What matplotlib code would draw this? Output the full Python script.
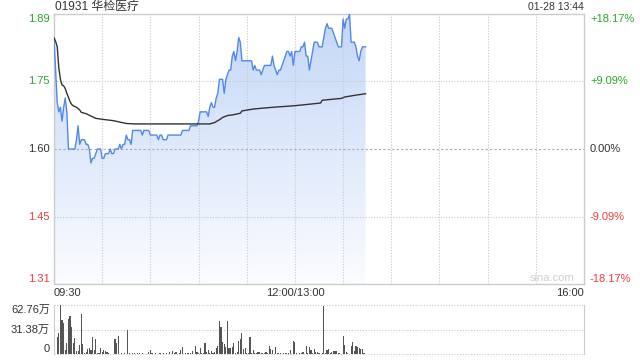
import numpy as np
import matplotlib.pyplot as plt
from matplotlib.patches import Polygon
from matplotlib.colors import LinearSegmentedColormap

plt.rcParams['font.family'] = ['Liberation Sans', 'Noto Sans CJK SC', 'DejaVu Sans']

titulo = "01931 华检医疗"
fecha = "01-28 13:44"
cierre_previo = 1.60
niveles_pct = [0.1817, 0.0909, 0.0, -0.0909, -0.1817]
etiquetas_izq = ['1.89', '1.75', '1.60', '1.45', '1.31']
etiquetas_der = ['+18.17%', '+9.09%', '0.00%', '-9.09%', '-18.17%']
etiquetas_hora = ['09:30', '12:00/13:00', '16:00']
minutos_hora = [0, 150, 330]
etiquetas_vol = ['62.76万', '31.38万', '0']
niveles_vol = [62.76, 31.38, 0]

# precio por minuto (09:30 -> 13:44)
precio = [
    1.84, 1.77, 1.70, 1.68, 1.69, 1.66, 1.69, 1.71, 1.68, 1.60,
    1.60, 1.60, 1.60, 1.60, 1.62, 1.65, 1.61, 1.62, 1.62, 1.62,
    1.61, 1.61, 1.60, 1.57, 1.58, 1.58, 1.59, 1.60, 1.60, 1.60,
    1.58, 1.58, 1.59, 1.59, 1.59, 1.60, 1.59, 1.59, 1.60, 1.60,
    1.60, 1.61, 1.60, 1.61, 1.61, 1.63, 1.62, 1.62, 1.61, 1.64,
    1.64, 1.64, 1.64, 1.64, 1.64, 1.63, 1.64, 1.64, 1.64, 1.64,
    1.63, 1.63, 1.63, 1.63, 1.63, 1.62, 1.63, 1.63, 1.62, 1.62,
    1.62, 1.63, 1.63, 1.63, 1.63, 1.63, 1.63, 1.63, 1.63, 1.63,
    1.64, 1.64, 1.64, 1.64, 1.64, 1.65, 1.65, 1.65, 1.65, 1.65,
    1.66, 1.68, 1.68, 1.68, 1.68, 1.68, 1.67, 1.69, 1.70, 1.69,
    1.69, 1.71, 1.72, 1.75, 1.75, 1.75, 1.72, 1.75, 1.76, 1.77,
    1.77, 1.80, 1.81, 1.79, 1.81, 1.84, 1.83, 1.79, 1.79, 1.79,
    1.79, 1.79, 1.79, 1.79, 1.77, 1.78, 1.77, 1.77, 1.77, 1.76,
    1.77, 1.78, 1.78, 1.78, 1.78, 1.78, 1.80, 1.78, 1.77, 1.76,
    1.77, 1.77, 1.78, 1.79, 1.80, 1.81, 1.81, 1.80, 1.81, 1.78,
    1.81, 1.81, 1.81, 1.81, 1.82, 1.82, 1.83, 1.80, 1.80, 1.77,
    1.79, 1.81, 1.83, 1.83, 1.83, 1.82, 1.82, 1.82, 1.84, 1.86,
    1.87, 1.86, 1.86, 1.86, 1.85, 1.84, 1.83, 1.82, 1.82, 1.82,
    1.88, 1.86, 1.88, 1.88, 1.89, 1.83, 1.83, 1.83, 1.82, 1.80,
    1.79, 1.81, 1.82, 1.82, 1.82,
]

# precio medio (minuto, valor)
medio_min = [0, 1, 2, 3, 4, 5, 6, 7, 8, 9, 10, 11, 12, 14, 16, 17, 20, 23, 26, 30,
             37, 41, 45, 50, 97, 100, 103, 105, 108, 112, 116, 117, 124, 130, 137,
             149, 155, 166, 167, 179, 181, 188, 194]
medio_px = [1.839, 1.832, 1.820, 1.775, 1.750, 1.738, 1.736, 1.730, 1.720, 1.711,
            1.702, 1.696, 1.693, 1.690, 1.684, 1.679, 1.676, 1.671, 1.666, 1.664,
            1.661, 1.658, 1.655, 1.654, 1.654, 1.657, 1.663, 1.668, 1.672, 1.674,
            1.677, 1.682, 1.686, 1.688, 1.690, 1.693, 1.695, 1.699, 1.705, 1.709,
            1.712, 1.716, 1.719]

# volumen por minuto (万)
volumen = [
    5, 0, 21.6, 26.7, 62.76, 43.7, 39.4, 5.5, 14, 45,
    48.8, 35.2, 14.8, 20.4, 4.7, 4.7, 11.9, 51.3, 12.7, 2.1,
    3.4, 6.4, 7.6, 5.5, 22.5, 5.5, 19.5, 2.1, 2.0, 8.5,
    3.4, 5.5, 4.7, 3.4, 1.3, 0.8, 0.5, 1.0, 19, 14.8,
    23.5, 0.8, 1.5, 0.5, 1.2, 1.0, 31, 1.2, 0.5, 1.5,
    2.0, 0.8, 1.7, 1.2, 0.5, 1.5, 0.8, 1.0, 0.5, 2.5,
    5.5, 1.2, 0.8, 1.5, 0.5, 1.0, 1.3, 0.6, 1.2, 0.8,
    1.5, 0.5, 3.4, 0.8, 4.7, 1.5, 3.4, 0.8, 1.3, 5.5,
    9.8, 0.8, 2.1, 1.3, 2.1, 1.3, 4.7, 0.8, 11, 3.4,
    2.1, 8.5, 2.1, 2.1, 14.8, 3.4, 5.5, 1.3, 4.7, 1.3,
    3.4, 8.5, 11, 42.8, 35.2, 16.1, 12.7, 9.8, 42.8, 8.5,
    8.5, 9.8, 14, 1.3, 3.4, 17.4, 19, 26.7, 6.4, 7.6,
    1.3, 2.1, 21.6, 1.3, 5.5, 1.3, 2.1, 3.4, 3.4, 2.1,
    1.3, 2.1, 3.4, 1.3, 10.6, 6.4, 5.5, 0.8, 8.9, 1.3,
    2.1, 1.3, 0.8, 1.3, 2.1, 2.1, 1.3, 5.5, 0.8, 17,
    16.1, 1.3, 0.8, 2.1, 1.3, 3.4, 0.8, 10.6, 2.1, 8.9,
    5.5, 1.3, 6.4, 3.4, 3.4, 1.3, 0.8, 1.3, 61.5, 2.1,
    5.5, 6.8, 1.3, 3.4, 4.7, 4.7, 4.7, 2.1, 1.3, 0.8,
    23.3, 11.9, 3.4, 1.3, 0.8, 10.6, 16.1, 4.7, 10.6, 9.8,
    7.6, 6.4, 6.4, 1.3, 0.8,
]

verde = '#2aa52a'
rojo = '#f03c3c'
gris_txt = '#333333'
gris_borde = '#cccccc'

fig = plt.figure(figsize=(6.4, 3.6), dpi=100)
ax = fig.add_axes([54 / 640, 76 / 360, 530 / 640, 270 / 360])
axv = fig.add_axes([54 / 640, 5.7 / 360, 530 / 640, 49.3 / 360])

ymin = cierre_previo * (1 + niveles_pct[-1])
ymax = cierre_previo * (1 + niveles_pct[0])
x = np.arange(len(precio))
y = np.array(precio)

ax.set_xlim(0, 330)
ax.set_ylim(ymin, ymax)

# relleno degradado bajo la linea
poly = Polygon(np.column_stack([np.r_[x, x[-1], x[0]], np.r_[y, ymin, ymin]]),
               closed=True, facecolor='none', edgecolor='none')
ax.add_patch(poly)
grad = np.linspace(1, 0, 256).reshape(-1, 1)
cmap = LinearSegmentedColormap.from_list('g', ['#fbfcff', '#c3d7f7'])
img = ax.imshow(grad, cmap=cmap, aspect='auto', extent=[0, 330, ymin, ymax],
                origin='upper', zorder=1)
img.set_clip_path(poly)

ax.plot(x, y, color='#5189ea', lw=1.0, zorder=3)
ax.plot(medio_min, medio_px, color='#333333', lw=1.0, zorder=4)

# rejilla
for m in range(30, 330, 30):
    ax.axvline(m, color='#c8c8c8', lw=0.8, ls=(0, (1, 1.5)), zorder=2)
for p in niveles_pct[1:-1]:
    if p == 0:
        ax.axhline(cierre_previo, color='#aaaaaa', lw=0.8, ls=(0, (2, 2)), zorder=2)
    else:
        ax.axhline(cierre_previo * (1 + p), color='#c8c8c8', lw=0.8, ls=(0, (1, 1.5)), zorder=2)

ax.set_xticks([])
ax.set_yticks([])
for s in ax.spines.values():
    s.set_color(gris_borde)
    s.set_linewidth(1)

# etiquetas del eje de precio
for i, (p, li, ld) in enumerate(zip(niveles_pct, etiquetas_izq, etiquetas_der)):
    c = verde if p > 0 else (rojo if p < 0 else gris_txt)
    va = 'top' if i == 0 else ('bottom' if i == len(niveles_pct) - 1 else 'center')
    yy = cierre_previo * (1 + p)
    ax.annotate(li, (0, yy), xycoords=('axes fraction', 'data'), xytext=(-4, 0),
                textcoords='offset pixels', ha='right', va=va, color=c, fontsize=8)
    ax.annotate(ld, (1, yy), xycoords=('axes fraction', 'data'), xytext=(6, 0),
                textcoords='offset pixels', ha='left', va=va, color=c, fontsize=8)

for lab, m in zip(etiquetas_hora, minutos_hora):
    ha = 'left' if m == 0 else ('right' if m == 330 else 'center')
    ax.annotate(lab, (m, ymin), xycoords='data', xytext=(0, -4), textcoords='offset pixels',
                ha=ha, va='top', color=gris_txt, fontsize=8)

fig.text(55 / 640, 1 - 7 / 360, titulo, ha='left', va='center', color=gris_txt, fontsize=8.6)
fig.text(584 / 640, 1 - 7 / 360, fecha, ha='right', va='center', color=gris_txt, fontsize=7.5)
ax.text(0.94, 0.005, 'sina.com', transform=ax.transAxes, ha='center', va='bottom',
        color='#cfcfcf', fontsize=8)

# volumen
xv = np.arange(len(volumen))
axv.bar(xv, volumen, width=0.7, color='#555555', linewidth=0)
axv.set_xlim(0, 330)
axv.set_ylim(0, niveles_vol[0])
axv.set_xticks([])
axv.set_yticks([])
for k in ['top', 'bottom']:
    axv.spines[k].set_visible(False)
for k in ['left', 'right']:
    axv.spines[k].set_color(gris_borde)
for v in niveles_vol:
    axv.axhline(v, color='#c8c8c8', lw=0.8, ls=(0, (1, 1.5)), zorder=0, clip_on=False)
for i, (lab, v) in enumerate(zip(etiquetas_vol, niveles_vol)):
    va = 'top' if i == 0 else ('bottom' if i == len(niveles_vol) - 1 else 'center')
    axv.annotate(lab, (0, v), xycoords=('axes fraction', 'data'), xytext=(-4, 0),
                 textcoords='offset pixels', ha='right', va=va, color=gris_txt, fontsize=8)

fig.savefig('out.png', dpi=100)
